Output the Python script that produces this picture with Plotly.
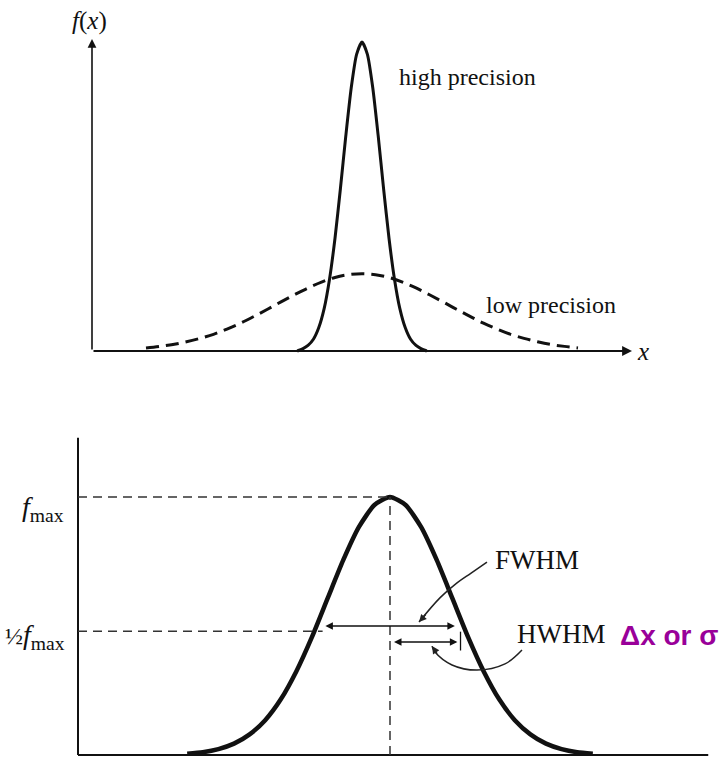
import plotly.graph_objects as go

# ---------------- data ----------------
# Top panel: high precision (narrow) and low precision (broad) distributions
hp_x = [3.8, 3.9, 4.0, 4.1, 4.2, 4.3, 4.4, 4.5, 4.6, 4.7, 4.8, 4.9, 5.0,
        5.1, 5.2, 5.3, 5.4, 5.5, 5.6, 5.7, 5.8, 5.9, 6.0, 6.1, 6.2]
hp_y = [0.0, 0.007, 0.018, 0.038, 0.076, 0.138, 0.234, 0.365, 0.525, 0.696, 0.851, 0.960, 1.0,
        0.960, 0.851, 0.696, 0.525, 0.365, 0.234, 0.138, 0.076, 0.038, 0.018, 0.007, 0.0]

lp_x = [1.0, 1.25, 1.5, 1.75, 2.0, 2.25, 2.5, 2.75, 3.0, 3.25, 3.5, 3.75, 4.0, 4.25, 4.5, 4.75, 5.0,
        5.25, 5.5, 5.75, 6.0, 6.25, 6.5, 6.75, 7.0, 7.25, 7.5, 7.75, 8.0, 8.25, 8.5, 8.75, 9.0]
lp_y = [0.010, 0.015, 0.021, 0.030, 0.041, 0.054, 0.071, 0.090, 0.112, 0.135, 0.159, 0.182, 0.204,
        0.223, 0.238, 0.247, 0.250, 0.247, 0.238, 0.223, 0.204, 0.182, 0.159, 0.135, 0.112,
        0.090, 0.071, 0.054, 0.041, 0.030, 0.021, 0.015, 0.010]

# Bottom panel: single peak with FWHM / HWHM
pk_x = [1.75, 2.0, 2.25, 2.5, 2.75, 3.0, 3.25, 3.5, 3.75, 4.0, 4.25, 4.5, 4.75, 5.0,
        5.25, 5.5, 5.75, 6.0, 6.25, 6.5, 6.75, 7.0, 7.25, 7.5, 7.75, 8.0, 8.25]
pk_y = [0.005, 0.011, 0.023, 0.044, 0.080, 0.135, 0.216, 0.325, 0.458, 0.607, 0.755, 0.883, 0.969, 1.0,
        0.969, 0.883, 0.755, 0.607, 0.458, 0.325, 0.216, 0.135, 0.080, 0.044, 0.023, 0.011, 0.005]

peak_x = 5.0
f_max = 1.0
half_level = 0.48
hwhm = 1.08

# pointer curves (annotation leaders)
fwhm_ptr_x = [6.554, 6.30, 6.074, 5.80, 5.465]
fwhm_ptr_y = [0.748, 0.705, 0.667, 0.609, 0.5155]
hwhm_ptr_x = [7.115, 6.843, 6.394, 5.994, 5.721, 5.673]
hwhm_ptr_y = [0.407, 0.353, 0.329, 0.349, 0.399, 0.422]

# ---------------- figure ----------------
INK = "#111111"
SERIF = "Liberation Serif, Times New Roman, serif"

fig = go.Figure()

fig.add_trace(go.Scatter(x=hp_x, y=hp_y, mode="lines", xaxis="x", yaxis="y",
                         line=dict(color=INK, width=3, shape="spline", smoothing=0.6),
                         hoverinfo="skip"))
fig.add_trace(go.Scatter(x=lp_x, y=lp_y, mode="lines", xaxis="x", yaxis="y",
                         line=dict(color=INK, width=3, dash="13px,7px", shape="spline"),
                         hoverinfo="skip"))
fig.add_trace(go.Scatter(x=pk_x, y=pk_y, mode="lines", xaxis="x2", yaxis="y2",
                         line=dict(color=INK, width=4.5, shape="spline", smoothing=0.6),
                         hoverinfo="skip"))
fig.add_trace(go.Scatter(x=fwhm_ptr_x, y=fwhm_ptr_y, mode="lines", xaxis="x2", yaxis="y2",
                         line=dict(color="#222222", width=1.5, shape="spline"),
                         hoverinfo="skip"))
fig.add_trace(go.Scatter(x=hwhm_ptr_x, y=hwhm_ptr_y, mode="lines", xaxis="x2", yaxis="y2",
                         line=dict(color="#222222", width=1.5, shape="spline"),
                         hoverinfo="skip"))

dash_ref = dict(color="#333333", width=1.5, dash="9px,6px")
shapes = [
    # bottom axes
    dict(type="line", xref="x2", yref="y2", x0=0, y0=0, x1=0, y1=1.23,
         line=dict(color=INK, width=2)),
    dict(type="line", xref="x2", yref="y2", x0=0, y0=0, x1=10.1, y1=0,
         line=dict(color=INK, width=2)),
    # reference dashed lines
    dict(type="line", xref="x2", yref="y2", x0=0, y0=f_max, x1=peak_x, y1=f_max, line=dash_ref),
    dict(type="line", xref="x2", yref="y2", x0=0, y0=half_level, x1=peak_x - hwhm, y1=half_level,
         line=dash_ref),
    dict(type="line", xref="x2", yref="y2", x0=peak_x, y0=0, x1=peak_x, y1=f_max, line=dash_ref),
    # HWHM end tick
    dict(type="line", xref="x2", yref="y2", x0=peak_x + hwhm + 0.05, y0=0.405,
         x1=peak_x + hwhm + 0.05, y1=0.478, line=dict(color=INK, width=1.3)),
]

ann = [
    # top axes with arrows
    dict(x=0, y=1.01, ax=0, ay=0, xref="x", yref="y", axref="x", ayref="y", text="",
         showarrow=True, arrowhead=2, arrowsize=1.1, arrowwidth=1.6, arrowcolor=INK),
    dict(x=10.0, y=0, ax=0, ay=0, xref="x", yref="y", axref="x", ayref="y", text="",
         showarrow=True, arrowhead=2, arrowsize=1.1, arrowwidth=1.8, arrowcolor=INK),
    # FWHM double arrow
    dict(x=peak_x + hwhm - 0.04, y=half_level + 0.02, ax=peak_x - hwhm + 0.02, ay=half_level + 0.02,
         xref="x2", yref="y2", axref="x2", ayref="y2", text="", showarrow=True,
         arrowhead=2, arrowside="end+start", arrowsize=1, arrowwidth=1.5, arrowcolor=INK),
    # HWHM double arrow
    dict(x=peak_x + hwhm, y=0.438, ax=peak_x + 0.04, ay=0.438,
         xref="x2", yref="y2", axref="x2", ayref="y2", text="", showarrow=True,
         arrowhead=2, arrowside="end+start", arrowsize=1, arrowwidth=1.5, arrowcolor=INK),
    # pointer heads
    dict(x=fwhm_ptr_x[-1], y=fwhm_ptr_y[-1], ax=8, ay=-9, xref="x2", yref="y2", text="",
         showarrow=True, arrowhead=2, arrowsize=1, arrowwidth=1.5, arrowcolor="#222222"),
    dict(x=hwhm_ptr_x[-1], y=hwhm_ptr_y[-1], ax=6, ay=9, xref="x2", yref="y2", text="",
         showarrow=True, arrowhead=2, arrowsize=1, arrowwidth=1.5, arrowcolor="#222222"),
    # texts top
    dict(x=-0.05, y=1.068, xref="x", yref="y", text="<i>f</i>(<i>x</i>)", showarrow=False,
         font=dict(family=SERIF, size=25, color=INK)),
    dict(x=5.648, y=0.887, xref="x", yref="y", text="high precision", showarrow=False,
         xanchor="left", font=dict(family=SERIF, size=24, color=INK)),
    dict(x=7.259, y=0.149, xref="x", yref="y", text="low precision", showarrow=False,
         xanchor="left", font=dict(family=SERIF, size=24, color=INK)),
    dict(x=10.2, y=0.0, xref="x", yref="y", text="<i>x</i>", showarrow=False,
         font=dict(family=SERIF, size=25, color=INK)),
    # texts bottom
    dict(x=-0.2, y=0.957, xref="x2", yref="y2", text="<i>f</i><sub>max</sub>", showarrow=False,
         xanchor="right", font=dict(family=SERIF, size=28, color=INK)),
    dict(x=-0.17, y=0.46, xref="x2", yref="y2",
         text="<span style='font-size:24px'>½</span><i>f</i><sub>max</sub>", showarrow=False,
         xanchor="right", font=dict(family=SERIF, size=28, color=INK)),
    dict(x=6.65, y=0.756, xref="x2", yref="y2", text="FWHM", showarrow=False,
         xanchor="left", font=dict(family=SERIF, size=27, color=INK)),
    dict(x=7.0, y=0.469, xref="x2", yref="y2", text="HWHM", showarrow=False,
         xanchor="left", font=dict(family=SERIF, size=27, color=INK)),
    dict(x=8.654, y=0.465, xref="x2", yref="y2", text="<b>Δx or σ</b>", showarrow=False,
         xanchor="left", font=dict(family="Liberation Sans, Arial, sans-serif", size=28,
                                   color="#990099")),
]

fig.update_layout(
    width=722, height=762,
    margin=dict(l=0, r=0, t=0, b=0, pad=0),
    paper_bgcolor="white", plot_bgcolor="white",
    showlegend=False,
    xaxis=dict(domain=[0, 1], range=[-92 / 54, 630 / 54], visible=False, fixedrange=True),
    yaxis=dict(domain=[0.5, 1], range=[-30 / 309, 351 / 309], visible=False, fixedrange=True),
    xaxis2=dict(domain=[0, 1], range=[-78 / 62.4, 644 / 62.4], visible=False, anchor="y2",
                fixedrange=True),
    yaxis2=dict(domain=[0, 0.5], range=[-7 / 258, 374 / 258], visible=False, anchor="x2",
                fixedrange=True),
    shapes=shapes,
    annotations=ann,
)

fig.write_html("out.html", config={"displayModeBar": False},
               post_script="document.body.style.margin='0';")
